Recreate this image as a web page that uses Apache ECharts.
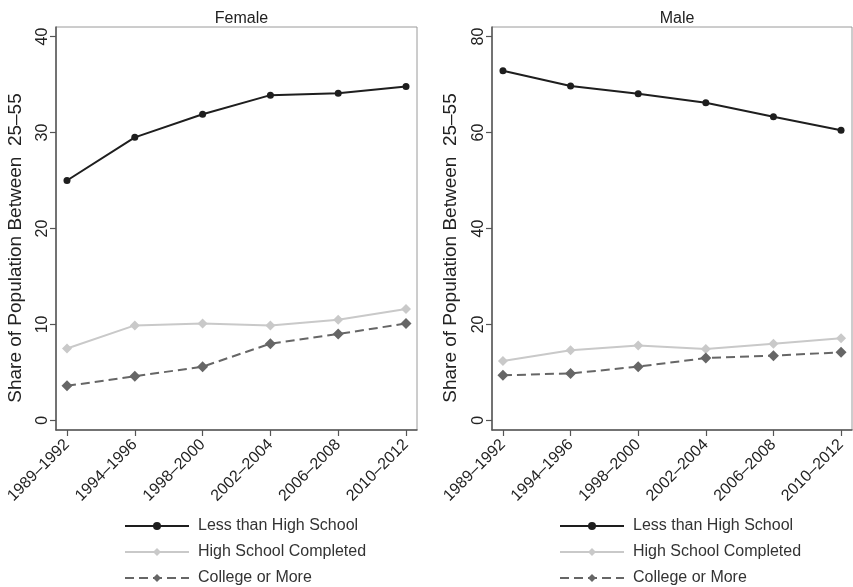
<!DOCTYPE html>
<html>
<head>
<meta charset="utf-8">
<script src="https://cdn.jsdelivr.net/npm/echarts@6/dist/echarts.min.js"></script>
<style>
html,body{margin:0;padding:0;background:#fff;}
#chart{width:853px;height:587px;}
</style>
</head>
<body>
<div id="chart"></div>
<script>
const categories = ['1989–1992','1994–1996','1998–2000','2002–2004','2006–2008','2010–2012'];
const seriesNames = ['Less than High School','High School Completed','College or More'];
const femaleLessHS = [25.0, 29.5, 31.9, 33.9, 34.1, 34.8];
const femaleHS = [7.5, 9.9, 10.1, 9.9, 10.5, 11.6];
const femaleCollege = [3.6, 4.6, 5.6, 8.0, 9.0, 10.1];
const maleLessHS = [72.9, 69.7, 68.1, 66.2, 63.3, 60.5];
const maleHS = [12.4, 14.6, 15.6, 14.9, 16.0, 17.1];
const maleCollege = [9.4, 9.8, 11.2, 13.0, 13.5, 14.2];
const femaleTicks = [0, 10, 20, 30, 40];
const maleTicks = [0, 20, 40, 60, 80];
const panelTitles = ['Female', 'Male'];
const yAxisTitle = 'Share of Population Between  25–55';

const FONT = "'Liberation Sans', Arial, sans-serif";
const TXT = '#222';
const xIdx = categories.map((c, i) => i);

function xAxisCfg(gi) {
  return {
    type: 'value', gridIndex: gi, min: -0.162, max: 5.162,
    splitLine: {show: false},
    axisLine: {show: true, onZero: false, lineStyle: {color: '#555', width: 1.5}},
    axisTick: {show: true, length: 6, customValues: xIdx, lineStyle: {color: '#555', width: 1.2}},
    axisLabel: {customValues: xIdx, rotate: 45, margin: 12, fontSize: 16, fontFamily: FONT, color: TXT,
      formatter: v => categories[Math.round(v)]}
  };
}
function yAxisCfg(gi, ticks, min, max) {
  return {
    type: 'value', gridIndex: gi, min: min, max: max,
    splitLine: {show: false},
    axisLine: {show: true, onZero: false, lineStyle: {color: '#555', width: 1.5}},
    axisTick: {show: true, length: 6, customValues: ticks, lineStyle: {color: '#555', width: 1.2}},
    axisLabel: {customValues: ticks, rotate: 90, margin: 5, fontSize: 16, fontFamily: FONT, color: TXT}
  };
}
function pts(vals) { return vals.map((v, i) => [i, v]); }
function makeSeries(gi, a, b, c) {
  return [
    {name: seriesNames[0], type: 'line', xAxisIndex: gi, yAxisIndex: gi, data: pts(a),
     symbol: 'circle', symbolSize: 7, lineStyle: {color: '#1e1e1e', width: 2},
     itemStyle: {color: '#1e1e1e'}, z: 4},
    {name: seriesNames[1], type: 'line', xAxisIndex: gi, yAxisIndex: gi, data: pts(b),
     symbol: 'diamond', symbolSize: 10, lineStyle: {color: '#c9c9c9', width: 2},
     itemStyle: {color: '#c9c9c9'}, z: 2},
    {name: seriesNames[2], type: 'line', xAxisIndex: gi, yAxisIndex: gi, data: pts(c),
     symbol: 'diamond', symbolSize: 11, lineStyle: {color: '#666', width: 2, type: [9, 5]},
     itemStyle: {color: '#666'}, z: 3}
  ];
}
function legendCfg(left) {
  return {
    data: seriesNames, orient: 'vertical', left: left, top: 513, height: 90,
    itemWidth: 64, itemHeight: 10, itemGap: 10,
    textStyle: {fontSize: 16, fontFamily: FONT, color: '#333', padding: [0, 0, 0, 4]},
    selectedMode: false
  };
}

const chart = echarts.init(document.getElementById('chart'));
chart.setOption({
  animation: false,
  backgroundColor: '#fff',
  title: [
    {text: panelTitles[0], left: 236.5, top: 6, textAlign: 'center',
     textStyle: {fontSize: 16, fontWeight: 'normal', fontFamily: FONT, color: TXT}},
    {text: panelTitles[1], left: 672, top: 6, textAlign: 'center',
     textStyle: {fontSize: 16, fontWeight: 'normal', fontFamily: FONT, color: TXT}}
  ],
  grid: [
    {left: 56, top: 27, width: 361, height: 403, show: true, borderColor: '#9a9a9a', borderWidth: 1, backgroundColor: '#fff'},
    {left: 492, top: 27, width: 360, height: 403, show: true, borderColor: '#9a9a9a', borderWidth: 1, backgroundColor: '#fff'}
  ],
  xAxis: [xAxisCfg(0), xAxisCfg(1)],
  yAxis: [yAxisCfg(0, femaleTicks, -1, 41), yAxisCfg(1, maleTicks, -2, 82)],
  legend: [legendCfg(119), legendCfg(554)],
  graphic: [
    {type: 'text', x: 16, y: 248, rotation: Math.PI / 2,
     style: {text: yAxisTitle, font: '19px ' + FONT, fill: TXT, textAlign: 'center', textVerticalAlign: 'middle'}},
    {type: 'text', x: 451, y: 248, rotation: Math.PI / 2,
     style: {text: yAxisTitle, font: '19px ' + FONT, fill: TXT, textAlign: 'center', textVerticalAlign: 'middle'}}
  ],
  series: makeSeries(0, femaleLessHS, femaleHS, femaleCollege).concat(makeSeries(1, maleLessHS, maleHS, maleCollege))
});
</script>
</body>
</html>
